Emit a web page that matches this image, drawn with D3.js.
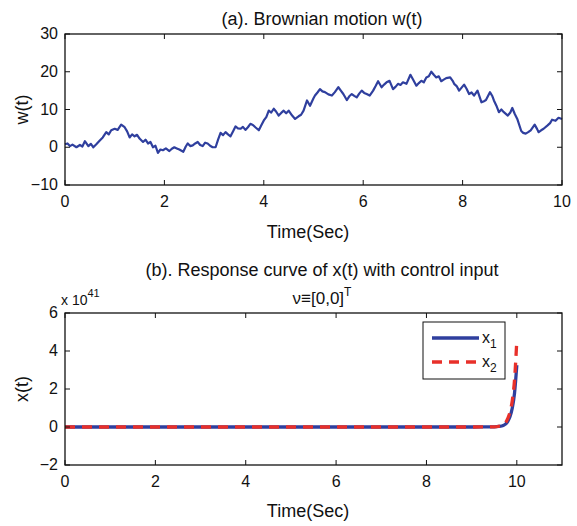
<!DOCTYPE html>
<html><head><meta charset="utf-8">
<script src="https://cdn.jsdelivr.net/npm/d3@7"></script>
<style>
body{margin:0;background:#fff;}
svg{display:block;}
text{font-family:"Liberation Sans",Arial,Helvetica,sans-serif;fill:#111;}
</style></head><body>
<svg id="c" width="577" height="526"></svg>
<script>
// ---- data ----
const brownT = [
0,0.05,0.1,0.15,0.23,0.3,0.35,0.4,0.47,0.52,
0.57,0.63,0.7,0.76,0.83,0.88,0.93,1.0,1.06,1.13,
1.2,1.25,1.3,1.35,1.4,1.45,1.5,1.57,1.62,1.67,
1.72,1.77,1.82,1.87,1.92,1.97,2.03,2.1,2.15,2.2,
2.25,2.3,2.38,2.43,2.47,2.52,2.57,2.62,2.67,2.72,
2.77,2.82,2.87,2.92,2.97,3.03,3.08,3.13,3.18,3.23,
3.28,3.33,3.38,3.43,3.48,3.53,3.58,3.63,3.68,3.73,
3.78,3.83,3.9,3.95,4.0,4.05,4.1,4.15,4.2,4.25,
4.3,4.35,4.4,4.45,4.5,4.57,4.63,4.7,4.75,4.8,
4.87,4.93,5.0,5.03,5.08,5.13,5.18,5.23,5.3,5.37,
5.43,5.5,5.55,5.6,5.67,5.72,5.77,5.82,5.87,5.92,
5.97,6.02,6.07,6.13,6.2,6.25,6.3,6.37,6.42,6.47,
6.53,6.6,6.65,6.7,6.75,6.8,6.87,6.95,7.0,7.07,
7.12,7.17,7.22,7.27,7.32,7.37,7.42,7.47,7.52,7.57,
7.62,7.67,7.75,7.8,7.83,7.88,7.93,7.98,8.03,8.08,
8.13,8.18,8.23,8.3,8.38,8.43,8.47,8.55,8.6,8.63,
8.68,8.73,8.78,8.83,8.91,8.96,9.0,9.05,9.1,9.18,
9.22,9.27,9.32,9.37,9.45,9.5,9.53,9.58,9.63,9.71,
9.76,9.8,9.87,9.93,10];
const brownW = [
0.8,1.0,0.3,0.7,0.0,0.6,0.2,1.6,0.3,0.9,
0.0,0.8,1.8,2.6,4.0,3.4,4.5,4.9,4.6,6.0,
5.3,4.2,2.6,3.4,2.9,3.3,2.3,1.4,2.0,1.0,
1.4,0.0,0.4,-1.5,-0.6,-0.8,-0.3,-1.0,-0.4,0.0,
-0.3,-0.6,-1.2,0.2,1.0,0.3,0.5,1.0,1.4,0.6,
0.3,1.2,1.0,0.4,0.0,0.0,2.0,3.8,3.2,4.0,
3.4,2.9,4.2,5.5,5.0,4.9,5.4,4.6,5.3,6.2,
5.9,5.3,4.5,5.8,7.1,8.0,9.7,9.2,10.2,9.4,
8.4,9.1,9.7,9.0,9.7,8.4,7.5,8.2,8.6,9.7,
12.4,11.0,13.0,13.7,14.5,15.4,14.8,14.6,14.0,13.7,
14.6,15.9,15.0,14.1,12.5,13.5,14.1,13.6,13.2,14.2,
15.0,14.4,14.1,13.7,15.0,16.2,17.5,15.9,16.6,17.2,
17.6,15.4,16.0,16.8,16.5,17.2,16.8,19.2,18.0,16.3,
17.0,17.6,17.2,18.5,18.8,20.0,19.2,18.5,18.8,17.5,
17.9,18.3,18.5,17.6,16.8,16.2,15.0,15.8,16.6,15.5,
14.1,14.5,13.7,15.0,11.9,12.2,12.5,14.6,13.5,12.4,
11.0,9.3,10.0,9.3,8.4,9.2,10.4,8.8,7.5,4.3,
3.8,3.6,4.0,4.5,6.0,4.8,4.0,4.5,4.9,5.8,
6.4,7.3,7.0,7.8,7.5];

const respT  = [0, 9.0, 9.5, 9.6, 9.7, 9.75, 9.8, 9.85, 9.9, 9.95, 10.0];
const respX1 = [0, 0, 0.01, 0.03, 0.08, 0.15, 0.3, 0.55, 1.0, 1.8, 3.25]; // x 10^41
const respX2 = [0, 0, 0.01, 0.04, 0.12, 0.22, 0.45, 0.8, 1.4, 2.5, 4.56]; // x 10^41

const xTicksA = [0,2,4,6,8,10];
const yTicksA = [-10,0,10,20,30];
const xTicksB = [0,2,4,6,8,10];
const yTicksB = [-2,0,2,4,6];
const legendLabels = ["x","x"];
const legendSubs = ["1","2"];

// ---- drawing ----
const svg = d3.select("#c");
const BLUE = "#2f3f9e", RED = "#e8302a";
const fmt = d => d < 0 ? "\u2212" + Math.abs(d) : String(d);

function frame(g, x, y, xt, yt, L, R, T, B) {
  const tl = 5;
  xt.forEach(v => {
    g.append("line").attr("x1", x(v)).attr("x2", x(v)).attr("y1", B).attr("y2", B - tl).attr("stroke", "#111");
    g.append("line").attr("x1", x(v)).attr("x2", x(v)).attr("y1", T).attr("y2", T + tl).attr("stroke", "#111");
    g.append("text").attr("x", x(v)).attr("y", B + 22).attr("text-anchor", "middle").attr("font-size", 16).text(fmt(v));
  });
  yt.forEach(v => {
    g.append("line").attr("x1", L).attr("x2", L + tl).attr("y1", y(v)).attr("y2", y(v)).attr("stroke", "#111");
    g.append("line").attr("x1", R).attr("x2", R - tl).attr("y1", y(v)).attr("y2", y(v)).attr("stroke", "#111");
    g.append("text").attr("x", L - 7).attr("y", y(v) + 5).attr("text-anchor", "end").attr("font-size", 16).text(fmt(v));
  });
  g.append("rect").attr("x", L).attr("y", T).attr("width", R - L).attr("height", B - T)
    .attr("fill", "none").attr("stroke", "#111").attr("stroke-width", 1.3);
}

// Panel (a)
{
  const L = 65, R = 562, T = 34, B = 185;
  const x = d3.scaleLinear().domain([0, 10]).range([L, R]);
  const y = d3.scaleLinear().domain([-10, 30]).range([B, T]);
  const g = svg.append("g");
  const line = d3.line().x(i => x(brownT[i])).y(i => y(brownW[i]));
  g.append("path").attr("d", line(d3.range(brownT.length))).attr("fill", "none")
    .attr("stroke", BLUE).attr("stroke-width", 2.2).attr("stroke-linejoin", "round");
  frame(g, x, y, xTicksA, yTicksA, L, R, T, B);
  g.append("text").attr("x", 322).attr("y", 25).attr("text-anchor", "middle").attr("font-size", 18).text("(a). Brownian motion w(t)");
  g.append("text").attr("x", 308).attr("y", 238).attr("text-anchor", "middle").attr("font-size", 18).text("Time(Sec)");
  g.append("text").attr("transform", `translate(28,${(T + B) / 2}) rotate(-90)`).attr("text-anchor", "middle").attr("font-size", 18).text("w(t)");
}

// Panel (b)
{
  const L = 65, R = 562, T = 313, B = 465;
  const x = d3.scaleLinear().domain([0, 11]).range([L, R]);
  const y = d3.scaleLinear().domain([-2, 6]).range([B, T]);
  const g = svg.append("g");
  const idx = d3.range(respT.length);
  const l1 = d3.line().x(i => x(respT[i])).y(i => y(respX1[i])).curve(d3.curveMonotoneX);
  const l2 = d3.line().x(i => x(respT[i])).y(i => y(respX2[i])).curve(d3.curveMonotoneX);
  g.append("path").attr("d", l1(idx)).attr("fill", "none").attr("stroke", BLUE).attr("stroke-width", 3.3);
  g.append("path").attr("d", l2(idx)).attr("fill", "none").attr("stroke", RED).attr("stroke-width", 3.3).attr("stroke-dasharray", "10,7");
  frame(g, x, y, xTicksB, yTicksB, L, R, T, B);
  g.append("text").attr("x", 322).attr("y", 276).attr("text-anchor", "middle").attr("font-size", 18).text("(b). Response curve of x(t) with control input");
  const nu = g.append("text").attr("x", 322).attr("y", 304).attr("text-anchor", "middle").attr("font-size", 17);
  nu.append("tspan").text("\u03bd\u2261[0,0]");
  nu.append("tspan").attr("dy", -8).attr("font-size", 12).text("T");
  const ex = g.append("text").attr("x", 61).attr("y", 305).attr("font-size", 14);
  ex.append("tspan").text("x 10");
  ex.append("tspan").attr("dy", -8).attr("font-size", 11).text("41");
  g.append("text").attr("x", 308).attr("y", 517).attr("text-anchor", "middle").attr("font-size", 18).text("Time(Sec)");
  g.append("text").attr("transform", `translate(28,${(T + B) / 2}) rotate(-90)`).attr("text-anchor", "middle").attr("font-size", 18).text("x(t)");
  // legend
  const lx = 423, ly = 322, lw = 82, lh = 57;
  const lg = g.append("g");
  lg.append("rect").attr("x", lx).attr("y", ly).attr("width", lw).attr("height", lh).attr("fill", "#fff").attr("stroke", "#111");
  [BLUE, RED].forEach((c, k) => {
    const yy = ly + 16 + k * 24;
    lg.append("line").attr("x1", lx + 9).attr("x2", lx + 56).attr("y1", yy).attr("y2", yy)
      .attr("stroke", c).attr("stroke-width", 3.3).attr("stroke-dasharray", k ? "10,7" : null);
    const t = lg.append("text").attr("x", lx + 59).attr("y", yy + 5).attr("font-size", 16);
    t.append("tspan").text(legendLabels[k]);
    t.append("tspan").attr("dy", 5).attr("font-size", 12).text(legendSubs[k]);
  });
}
</script>
</body></html>
